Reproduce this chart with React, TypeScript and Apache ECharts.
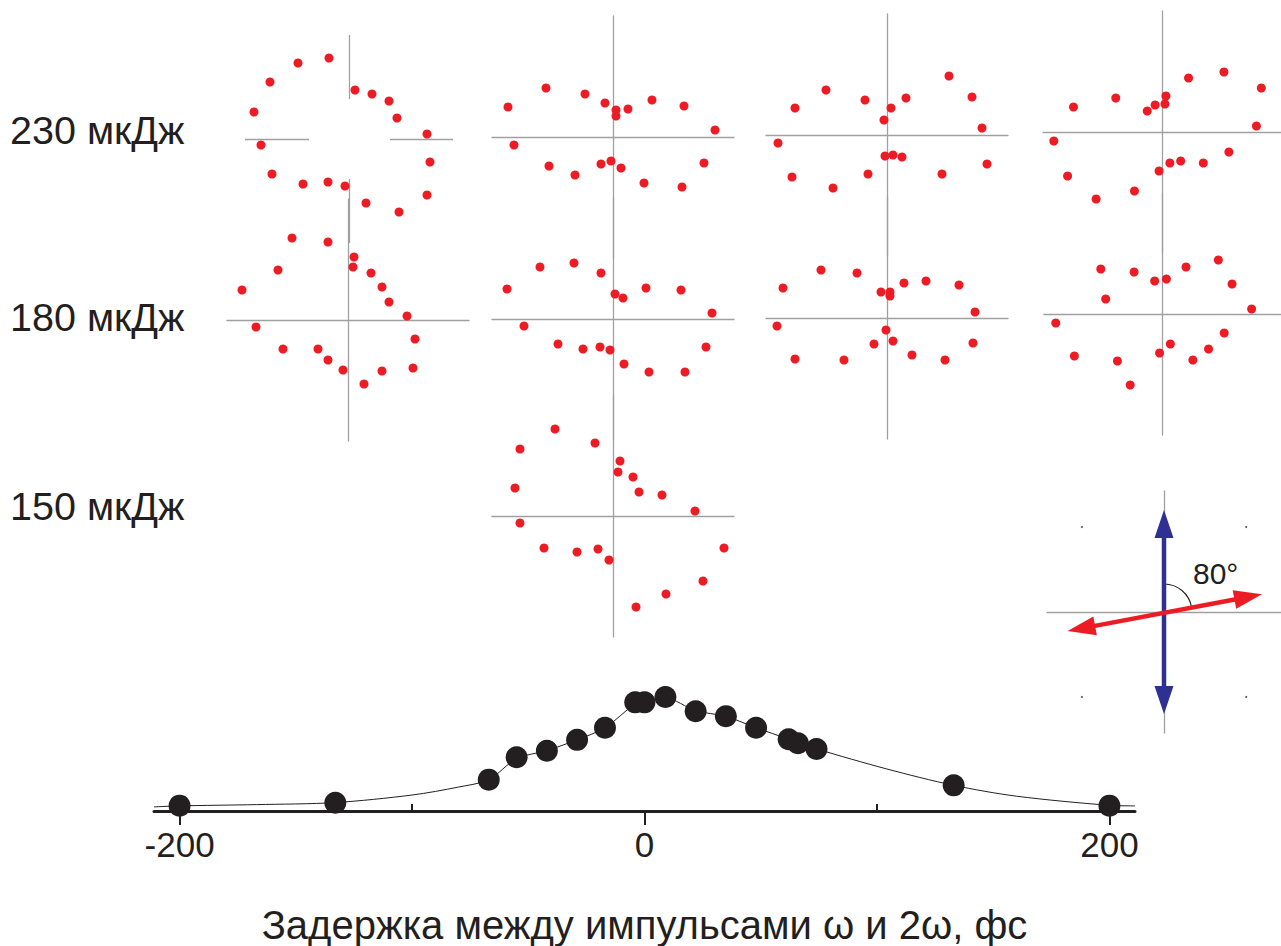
import React, { useEffect, useRef } from 'react';
import * as echarts from 'echarts';

const FONT = '"Liberation Sans", Arial, Helvetica, sans-serif';
const RED = '#ed1c24';
const BLUE = '#2e3192';
const GREY = '#a0a0a0';
const INK = '#231f20';

// ---------- polarisation patterns: [dx, dy] relative to crosshair centre ----------
const panel230a = [[-20,81],[-51,76],[-79,57],[-95,27],[-88,-6],[-77,-35],[-46,-45],[-21,-43],[-4,-47],[6,49],[23,45],[40,38],[48,21],[78,5],[81,-23],[78,-56],[50,-73],[17,-64]];
const panel230b = [[-105,30],[-67,49],[-28,43],[-8,34],[3,27],[3,21],[15,28],[39,37],[71,31],[102,7],[-99,-8],[-64,-29],[-38,-38],[-12,-27],[-2,-24],[8,-31],[31,-46],[69,-50],[91,-26]];
const panel230c = [[-92,27],[-61,45],[-22,35],[4,27],[-3,15],[19,37],[62,59],[85,38],[95,7],[-109,-8],[-95,-42],[-54,-53],[-19,-39],[-2,-21],[6,-20],[15,-22],[55,-39],[100,-29]];
const panel230d = [[-90,25],[-47,34],[-15,21],[-7,27],[4,36],[3,28],[27,54],[63,60],[101,44],[96,6],[-110,-9],[-96,-44],[-67,-67],[-28,-59],[-3,-39],[8,-31],[19,-29],[42,-31],[68,-20]];
const panel180a = [[-56,82],[-20,78],[-70,50],[-106,30],[6,63],[5,53],[23,47],[34,33],[41,18],[59,4],[-92,-7],[-65,-29],[-30,-29],[-20,-40],[-5,-50],[16,-64],[34,-51],[65,-48],[67,-19]];
const panel180b = [[-106,30],[-73,52],[-39,56],[-12,46],[2,25],[10,21],[33,31],[68,29],[99,6],[-89,-7],[-55,-25],[-30,-30],[-13,-28],[-3,-31],[11,-45],[36,-53],[72,-53],[93,-28]];
const panel180c = [[-104,30],[-66,48],[-30,45],[-6,26],[3,26],[3,22],[17,35],[39,37],[72,33],[88,6],[-110,-8],[-92,-41],[-43,-42],[-13,-26],[-1,-12],[6,-23],[25,-37],[58,-42],[86,-25]];
const panel180d = [[-63,45],[-29,42],[-58,15],[-8,33],[4,35],[24,47],[57,54],[71,30],[91,5],[-109,-9],[-90,-42],[-46,-47],[-33,-71],[-3,-39],[8,-30],[31,-46],[47,-35],[63,-19]];
const panel150a = [[-93,67],[-58,87],[-18,73],[-98,28],[7,55],[5,44],[20,39],[26,24],[49,21],[82,5],[-93,-7],[-69,-32],[-36,-36],[-15,-33],[-4,-44],[23,-91],[53,-78],[90,-65],[111,-32]];

// crosshair of the first panel (its centre is blanked out)
const panel230aCross = [[[-104,0],[-40,0]],[[41,0],[104,0]],[[0,104],[0,40]],[[0,-40],[0,-104]]];

const energyLabels = ['230 мкДж', '180 мкДж', '150 мкДж'];

// ---------- polarisation diagram ----------
const blueArrow = [0, -102, 0, 102];
const redArrow = [-99.7, -19, 101.3, 17.7];
const cornerMarks = [[-85, 85], [85, 85], [-85, -85], [85, -85]];
const angleLabel = '80°';

// ---------- delay scan ----------
const delays = [-200, -133, -67, -55, -42, -29, -17, -4, 0, 9, 22, 35, 48, 62, 66, 74, 133, 200];
const signal = [0.047, 0.073, 0.275, 0.471, 0.529, 0.624, 0.731, 0.953, 0.953, 1.0, 0.875, 0.832, 0.731, 0.63, 0.595, 0.543, 0.225, 0.047];
const fitDelay = [-211, -200, -167, -133, -100, -80, -67, -55, -42, -29, -17, -4, 0, 9, 22, 35, 48, 62, 74, 104, 133, 160, 200, 211];
const fitSignal = [0.036, 0.045, 0.056, 0.074, 0.14, 0.21, 0.275, 0.46, 0.53, 0.625, 0.73, 0.94, 0.955, 0.99, 0.88, 0.83, 0.73, 0.63, 0.545, 0.37, 0.225, 0.13, 0.05, 0.045];
const majorTicks = [-200, 0, 200];
const minorTicks = [-100, 100];
const xTitle = 'Задержка между импульсами ω и 2ω, фс';

// ---------- layout ----------
const panelLayout = [
  { data: panel230a, cx: 349, cy: 139, r: 104, blank: true },
  { data: panel230b, cx: 613, cy: 137, r: 121 },
  { data: panel230c, cx: 887, cy: 135, r: 121 },
  { data: panel230d, cx: 1164, cy: 132, r: 121 },
  { data: panel180a, cx: 348, cy: 320, r: 121 },
  { data: panel180b, cx: 613, cy: 319, r: 121 },
  { data: panel180c, cx: 887, cy: 318, r: 121 },
  { data: panel180d, cx: 1165, cy: 314, r: 121 },
  { data: panel150a, cx: 613, cy: 516, r: 121 },
];
const diagram = { cx: 1168, cy: 612, r: 121 };
const labelY = [130, 317, 506];

export default function App() {
  const ref = useRef<HTMLDivElement>(null);

  useEffect(() => {
    if (!ref.current) return;
    const chart = echarts.init(ref.current, undefined, { renderer: 'svg' });

    const grid: any[] = [];
    const xAxis: any[] = [];
    const yAxis: any[] = [];
    const series: any[] = [];

    const crossAxis = (idx: number, r: number, showLine: boolean) => {
      const common = {
        type: 'value', min: -r, max: r,
        axisLine: { show: showLine, onZero: true, lineStyle: { color: GREY, width: 1.3 } },
        axisTick: { show: false }, axisLabel: { show: false }, splitLine: { show: false },
      };
      xAxis.push({ ...common, gridIndex: idx });
      yAxis.push({ ...common, gridIndex: idx });
    };

    panelLayout.forEach((p, i) => {
      grid.push({ left: p.cx - p.r, top: p.cy - p.r, width: 2 * p.r, height: 2 * p.r });
      crossAxis(i, p.r, !p.blank);
      const s: any = {
        type: 'scatter', xAxisIndex: i, yAxisIndex: i, data: p.data,
        symbolSize: 9, itemStyle: { color: RED, opacity: 1 }, clip: false, silent: true, z: 5,
      };
      if (p.blank) {
        s.markLine = {
          silent: true, symbol: ['none', 'none'], label: { show: false },
          lineStyle: { color: GREY, width: 1.3, type: 'solid' },
          data: panel230aCross.map(([a, b]) => [{ coord: a }, { coord: b }]),
        };
      }
      series.push(s);
    });

    // diagram
    const di = panelLayout.length;
    grid.push({ left: diagram.cx - diagram.r, top: diagram.cy - diagram.r, width: 2 * diagram.r, height: 2 * diagram.r });
    crossAxis(di, diagram.r, true);
    series.push({
      type: 'scatter', xAxisIndex: di, yAxisIndex: di, data: cornerMarks,
      symbolSize: 2, itemStyle: { color: '#555', opacity: 1 }, silent: true,
    });
    const arrowColors = [BLUE, RED];
    series.push({
      type: 'custom', xAxisIndex: di, yAxisIndex: di, silent: true, z: 6,
      data: [blueArrow, redArrow],
      renderItem: (params: any, api: any) => {
        const p1 = api.coord([api.value(0), api.value(1)]);
        const p2 = api.coord([api.value(2), api.value(3)]);
        const color = arrowColors[params.dataIndex];
        const dx = p2[0] - p1[0], dy = p2[1] - p1[1];
        const len = Math.hypot(dx, dy);
        const ux = dx / len, uy = dy / len;
        const nx = -uy, ny = ux;
        const L = 28, W = 9.5;
        const head = (tip: number[], ex: number, ey: number) => ({
          type: 'polygon',
          shape: { points: [tip, [tip[0] - ex * L + nx * W, tip[1] - ey * L + ny * W], [tip[0] - ex * L - nx * W, tip[1] - ey * L - ny * W]] },
          style: { fill: color },
        });
        return {
          type: 'group',
          children: [
            { type: 'line', shape: { x1: p1[0] + ux * L * 0.8, y1: p1[1] + uy * L * 0.8, x2: p2[0] - ux * L * 0.8, y2: p2[1] - uy * L * 0.8 }, style: { stroke: color, lineWidth: 4.5 } },
            head(p2, ux, uy),
            head(p1, -ux, -uy),
          ],
        };
      },
    });
    series.push({
      type: 'custom', xAxisIndex: di, yAxisIndex: di, silent: true, z: 5,
      data: [[0, 0]],
      renderItem: (params: any, api: any) => {
        const c = api.coord([api.value(0), api.value(1)]);
        const tip = api.coord([redArrow[2], redArrow[3]]);
        const end = Math.atan2(tip[1] - c[1], tip[0] - c[0]);
        return {
          type: 'arc',
          shape: { cx: c[0], cy: c[1], r: 28, startAngle: -Math.PI / 2, endAngle: end, clockwise: true },
          style: { stroke: INK, fill: 'none', lineWidth: 1.1 },
        };
      },
    });

    // delay scan
    const bi = di + 1;
    grid.push({ left: 154, width: 981, top: 674.2, height: 138.5 });
    xAxis.push({
      type: 'value', gridIndex: bi, min: -211, max: 211,
      axisLine: { show: true, onZero: false, lineStyle: { color: INK, width: 3 } },
      axisTick: { show: true, customValues: majorTicks, length: 14, lineStyle: { color: INK, width: 2 } },
      axisLabel: { show: true, customValues: majorTicks, fontSize: 35, color: INK, fontFamily: FONT, margin: 16 },
      splitLine: { show: false },
      name: xTitle, nameLocation: 'middle', nameGap: 94,
      nameTextStyle: { fontSize: 40, color: INK, fontFamily: FONT },
    });
    xAxis.push({
      type: 'value', gridIndex: bi, min: -211, max: 211,
      axisLine: { show: false },
      axisTick: { show: true, customValues: minorTicks, length: 7, lineStyle: { color: INK, width: 2 } },
      axisLabel: { show: false }, splitLine: { show: false },
    });
    yAxis.push({ type: 'value', gridIndex: bi, min: 0, max: 1.2, show: false });
    series.push({
      type: 'line', xAxisIndex: bi, yAxisIndex: bi,
      data: fitDelay.map((d, i) => [d, fitSignal[i]]),
      smooth: 0.3, showSymbol: false, lineStyle: { color: INK, width: 1 }, silent: true, z: 3,
    });
    series.push({
      type: 'scatter', xAxisIndex: bi, yAxisIndex: bi,
      data: delays.map((d, i) => [d, signal[i]]),
      symbolSize: 22, itemStyle: { color: INK, opacity: 1 }, clip: false, silent: true, z: 4,
    });

    const graphic: any[] = energyLabels.map((t, i) => ({
      type: 'text', x: 10, y: labelY[i],
      style: { text: t, fontSize: 39.5, fontFamily: FONT, fill: INK, verticalAlign: 'middle' },
    }));
    graphic.push({
      type: 'text', x: 1193, y: 573,
      style: { text: angleLabel, fontSize: 30, fontFamily: FONT, fill: INK, verticalAlign: 'middle' },
    });

    chart.setOption({
      animation: false,
      backgroundColor: '#ffffff',
      textStyle: { fontFamily: FONT },
      grid, xAxis, yAxis, series, graphic,
    });

    return () => chart.dispose();
  }, []);

  return <div ref={ref} style={{ position: 'fixed', left: 0, top: 0, width: 1281, height: 946, background: '#fff' }} />;
}
